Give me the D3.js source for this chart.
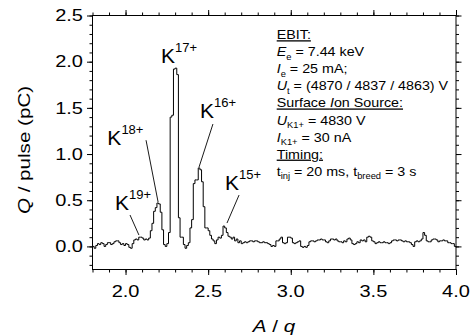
<!DOCTYPE html>
<html><head><meta charset="utf-8">
<script src="https://cdn.jsdelivr.net/npm/d3@7"></script>
<style>
html,body{margin:0;padding:0;background:#fff;}
svg text{font-family:"Liberation Sans",Arial,Helvetica,sans-serif;fill:#000;}
</style></head>
<body><svg id="c" width="473" height="335"></svg>
<script>
// ---- data ----
const binStart = 1.80;   // first A/q bin
const binWidth = 0.01;   // A/q bin width
const charge = [
 0.00,-0.02,0.01,0.03,0.02,0.04,0.03,0.00,0.02,0.04,0.04,0.02,0.03,0.05,0.06,0.06,0.04,0.02,0.03,0.01,
 0.03,0.02,-0.01,-0.02,0.03,0.07,0.08,0.07,0.10,0.10,0.09,0.07,0.08,0.07,0.09,0.17,0.25,0.38,0.42,0.47,
 0.46,0.37,0.18,0.02,0.00,0.03,0.15,1.40,1.42,1.92,1.93,1.86,0.31,0.10,0.10,0.02,-0.02,0.01,0.04,0.20,
 0.29,0.68,0.72,0.72,0.85,0.83,0.70,0.43,0.20,0.20,0.17,0.12,0.08,0.06,0.03,0.07,0.10,0.09,0.12,0.22,
 0.20,0.15,0.11,0.10,0.08,0.10,0.06,0.08,0.04,0.06,0.03,0.04,0.05,0.04,0.05,0.06,0.06,0.05,0.06,0.06,
 0.05,0.04,0.04,0.05,0.04,0.04,0.03,0.02,0.00,0.01,0.00,0.06,0.06,0.08,0.10,0.04,0.03,0.04,0.10,0.10,
 0.09,0.04,0.03,0.04,0.05,0.06,0.00,-0.01,0.00,-0.01,0.01,0.05,0.06,0.06,0.05,0.06,0.07,0.07,0.08,0.07,
 0.07,0.05,0.04,0.06,0.08,0.08,0.07,0.08,0.06,0.05,0.05,0.04,0.06,0.05,0.08,0.09,0.07,0.03,0.02,0.03,
 0.05,0.04,0.07,0.06,0.07,0.05,0.10,0.11,0.10,0.06,0.05,0.03,0.04,0.05,0.04,0.04,0.05,0.04,0.04,0.03,
 0.04,0.06,0.07,0.07,0.06,0.07,0.07,0.06,0.05,0.06,0.05,0.05,0.04,0.02,0.00,0.05,0.06,0.05,0.06,0.08,
 0.15,0.12,0.06,0.05,0.05,0.07,0.08,0.08,0.07,0.05,0.06,0.06,0.07,0.06,0.06,0.04,0.04,0.03,0.03,0.00,-0.01
];
const xTickLabels = [2.0, 2.5, 3.0, 3.5, 4.0];
const yTickLabels = [0.0, 0.5, 1.0, 1.5, 2.0, 2.5];
const xDomain = [1.8, 4.0];
const yDomain = [-0.25, 2.5];
const peakLabels = [
 {sup:"19+", x:1.936, y:0.394, l:[2.027,0.340,2.081,0.123]},
 {sup:"18+", x:1.890, y:1.100, l:[2.124,1.150,2.197,0.480]},
 {sup:"17+", x:2.215, y:1.984, l:null},
 {sup:"16+", x:2.451, y:1.390, l:[2.529,1.325,2.445,0.860]},
 {sup:"15+", x:2.602, y:0.611, l:[2.687,0.556,2.614,0.253]}
];
const infoLines = [
 [{t:"EBIT:",u:1}],
 [{t:"E",i:1},{t:"e",s:1},{t:" = 7.44 keV"}],
 [{t:"I",i:1},{t:"e",s:1},{t:" = 25 mA;"}],
 [{t:"U",i:1},{t:"t",s:1},{t:" = (4870 / 4837 / 4863) V"}],
 [{t:"Surface ",u:1},{t:"I",i:1,u:1},{t:"on Source:",u:1}],
 [{t:"U",i:1},{t:"K1+",s:1},{t:" = 4830 V"}],
 [{t:"I",i:1},{t:"K1+",s:1},{t:" = 30 nA"}],
 [{t:"Timing:",u:1}],
 [{t:"t"},{t:"inj",s:1},{t:" = 20 ms, t"},{t:"breed",s:1},{t:" = 3 s"}]
];

// ---- layout ----
const L = 92.5, R = 456, T = 15.5, B = 269.5;
const svg = d3.select("#c");
const x = d3.scaleLinear().domain(xDomain).range([L, R]);
const y = d3.scaleLinear().domain(yDomain).range([B, T]);
const fmt = d3.format(".1f");
const STRETCH = 1.25;

function minor(dom, step){ const a=[]; for(let v=Math.ceil(dom[0]/step-1e-9); v*step<=dom[1]+1e-9; v++){ a.push(+(v*step).toFixed(3)); } return a; }
const xMinor = minor(xDomain, 0.1), yMinor = minor(yDomain, 0.1);

function drawAxis(axisFn, scale, ticks, size, transform){
  const g = svg.append("g").attr("transform", transform)
    .call(axisFn(scale).tickValues(ticks).tickSize(size).tickFormat(""));
  g.select(".domain").remove();
  g.selectAll("line").attr("stroke","#000").attr("stroke-width",1);
}
// minor ticks
drawAxis(d3.axisBottom, x, xMinor, 3, `translate(0,${B})`);
drawAxis(d3.axisTop, x, xMinor, 3, `translate(0,${T})`);
drawAxis(d3.axisLeft, y, yMinor, 3, `translate(${L},0)`);
drawAxis(d3.axisRight, y, yMinor, 3, `translate(${R},0)`);
// major ticks
drawAxis(d3.axisBottom, x, xTickLabels, 5.5, `translate(0,${B})`);
drawAxis(d3.axisTop, x, xTickLabels, 5.5, `translate(0,${T})`);
drawAxis(d3.axisLeft, y, yTickLabels, 5.5, `translate(${L},0)`);
drawAxis(d3.axisRight, y, yTickLabels, 5.5, `translate(${R},0)`);

// frame
svg.append("rect").attr("x",L).attr("y",T).attr("width",R-L).attr("height",B-T)
  .attr("fill","none").attr("stroke","#000").attr("stroke-width",1);

// tick labels
svg.append("g").selectAll("text").data(xTickLabels).join("text")
  .attr("transform", d=>`translate(${x(d)},296.5) scale(${STRETCH},1)`)
  .attr("text-anchor","middle").attr("font-size",16).text(fmt);
svg.append("g").selectAll("text").data(yTickLabels).join("text")
  .attr("transform", d=>`translate(83,${y(d)+5.8}) scale(${STRETCH},1)`)
  .attr("text-anchor","end").attr("font-size",16).text(fmt);

// axis titles
const xt = svg.append("text").attr("transform",`translate(274,331.5) scale(${STRETCH},1)`)
  .attr("text-anchor","middle").attr("font-size",16.5);
xt.append("tspan").attr("font-style","italic").text("A");
xt.append("tspan").text(" / ");
xt.append("tspan").attr("font-style","italic").text("q");
const yt = svg.append("text").attr("transform",`translate(29.5,150) rotate(-90) scale(${STRETCH},1)`)
  .attr("text-anchor","middle").attr("font-size",16.5);
yt.append("tspan").attr("font-style","italic").text("Q");
yt.append("tspan").text(" / pulse (pC)");

// data line
const pts = charge.map((v,i)=>[binStart + i*binWidth, v]);
const line = d3.line().x(d=>x(d[0])).y(d=>y(d[1])).curve(d3.curveStepAfter);
svg.append("path").datum(pts).attr("d", line)
  .attr("fill","none").attr("stroke","#000").attr("stroke-width",1).attr("stroke-linejoin","miter");

// peak labels
peakLabels.forEach(p=>{
  const t = svg.append("text").attr("x",x(p.x)).attr("y",y(p.y)).attr("font-size",21);
  t.append("tspan").text("K");
  t.append("tspan").attr("font-size",13).attr("dy",-11).text(p.sup);
  if(p.l){
    svg.append("line").attr("x1",x(p.l[0])).attr("y1",y(p.l[1])).attr("x2",x(p.l[2])).attr("y2",y(p.l[3]))
      .attr("stroke","#000").attr("stroke-width",0.9);
  }
});

// info box
const info = svg.append("g").attr("transform","translate(276.7,0)");
const lineY0 = 39.3, lineStep = 17.05, FS = 13, SUBFS = 8.5;
infoLines.forEach((segs, k)=>{
  const t = info.append("text").attr("x",0).attr("y",lineY0 + k*lineStep).attr("font-size",FS)
    .attr("transform","scale(1.1,1)");
  let shifted = false;
  segs.forEach(s=>{
    const ts = t.append("tspan").text(s.t);
    if(s.i) ts.attr("font-style","italic");
    if(s.u) ts.style("text-decoration","underline");
    if(s.s){ ts.attr("font-size",SUBFS).attr("dy", shifted?0:3.5); shifted = true; }
    else if(shifted){ ts.attr("dy",-3.5); shifted=false; }
  });
});
</script></body></html>
